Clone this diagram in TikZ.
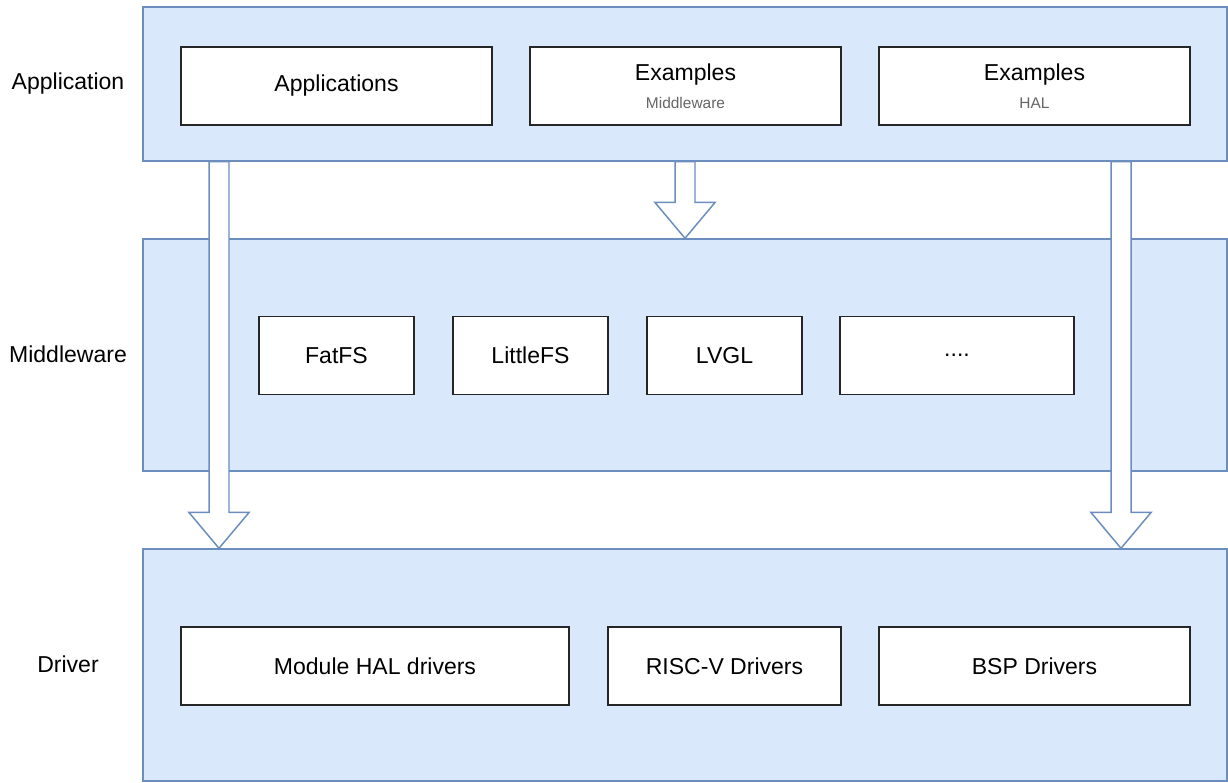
\documentclass[tikz,border=0pt]{standalone}
\usepackage{fontspec}
\setmainfont{Liberation Sans}
\usetikzlibrary{calc}

\definecolor{layerfill}{HTML}{DAE8FC}
\definecolor{layerline}{HTML}{6C8EBF}
\definecolor{subtext}{HTML}{666666}

\tikzset{
  layer/.style={draw=layerline,fill=layerfill,line width=0.85pt,minimum width=21.68cm,inner sep=0pt},
  block/.style={draw=black!85,fill=white,line width=1.1pt,minimum height=1.56cm,inner sep=0pt,
    align=center,font=\fontsize{13.1}{15}\selectfont},
  tag/.style={font=\fontsize{13.1}{15}\selectfont},
  flow/.style={draw=layerline,fill=white,line width=0.85pt,line join=miter},
}

% hollow block arrow pointing down: #1 = start, #2 = tip
\newcommand{\bigdown}[2]{%
  \draw[flow] let \p1=(#1), \p2=(#2) in
    (\x1-5.69pt,\y1) -- (\x1-5.69pt,\y2+20.5pt) -- (\x1-17.2pt,\y2+20.5pt)
    -- (\x1,\y2) -- (\x1+17.2pt,\y2+20.5pt) -- (\x1+5.69pt,\y2+20.5pt)
    -- (\x1+5.69pt,\y1) -- cycle;}

\begin{document}
\begin{tikzpicture}[x=0.02cm,y=-0.02cm]
\useasboundingbox (0,0) rectangle (1228,783);

% layers
\node[layer,minimum height=3.08cm] (app) at (685,84) {};
\node[layer,minimum height=4.64cm] (mid) at (685,355) {};
\node[layer,minimum height=4.64cm] (drv) at (685,665) {};

\node[tag] (lapp) at (68,84) {Application};
\node[tag] (lmid) at (68,354) {Middleware};
\node[tag] (ldrv) at (68,664) {Driver};

% arrows between layers
\coordinate (lx) at (219,0);
\coordinate (mx) at (685,0);
\coordinate (rx) at (1121,0);
\bigdown{app.south -| lx}{drv.north -| lx}
\bigdown{app.south -| mx}{mid.north -| mx}
\bigdown{app.south -| rx}{drv.north -| rx}

% application row
\node[block,minimum width=6.22cm] (apps) at (336.5,86) {Applications};
\node[block,minimum width=6.22cm] (exmw) at (685.5,86)
  {Examples\\[1pt]{\fontsize{8.8}{10}\selectfont\color{subtext}Middleware}};
\node[block,minimum width=6.22cm] (exhal) at (1034.5,86)
  {Examples\\[1pt]{\fontsize{8.8}{10}\selectfont\color{subtext}HAL}};

% middleware row
\foreach \nm/\cx/\txt in {fat/336.5/FatFS,lfs/530.5/LittleFS,lvgl/724.5/LVGL}
  \node[block,minimum width=3.1cm] (\nm) at (\cx,355.5) {\txt};
\node[block,minimum width=4.68cm] (more) at (957,355.5) {....};

% driver row
\node[block,minimum width=7.76cm] (modhal) at (375,666) {Module HAL drivers};
\node[block,minimum width=4.66cm] (riscv) at (724.5,666) {RISC-V Drivers};
\node[block,minimum width=6.22cm] (bsp) at (1034.5,666) {BSP Drivers};
\end{tikzpicture}
\end{document}
